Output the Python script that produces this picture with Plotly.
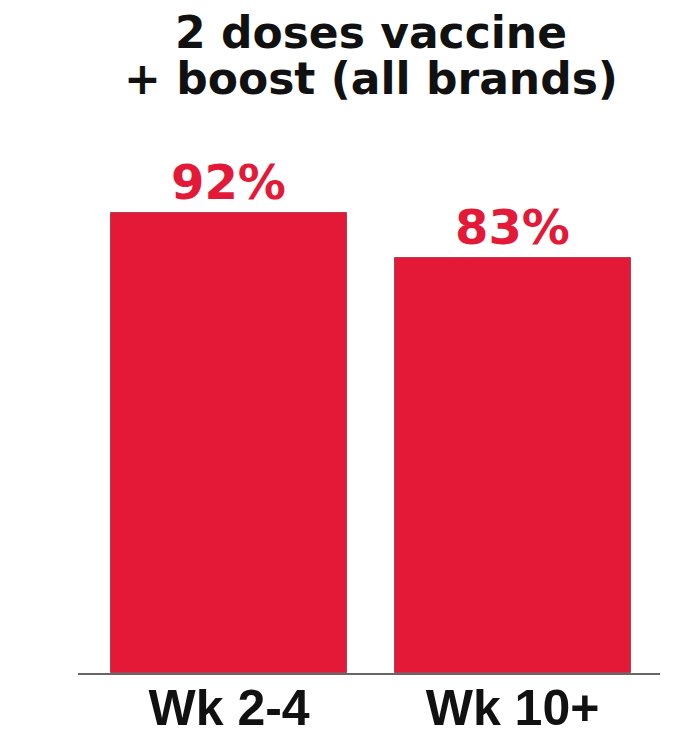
import plotly.graph_objects as go

categories = ["Wk 2-4", "Wk 10+"]
values = [92, 83]
title_lines = ["2 doses vaccine", "+ boost (all brands)"]

RED = "#E31937"
FONT = "DejaVu Sans"
TICKFONT = "Liberation Sans"

fig = go.Figure()
fig.add_trace(go.Bar(
    x=categories, y=values,
    width=0.833,
    marker=dict(color=RED, line=dict(color="rgba(140,10,30,0.6)", width=1)),
    text=[f"<b>{v}%</b>" for v in values],
    textposition="outside",
    constraintext="none",
    cliponaxis=False,
    textfont=dict(family=FONT, size=48, color=RED),
    hoverinfo="skip",
))

ys = [1.282, 1.19]
for line, yy in zip(title_lines, ys):
    fig.add_annotation(text=f"<b>{line}</b>", xref="paper", yref="paper",
                       x=0.5034, y=yy, xanchor="center", yanchor="middle",
                       showarrow=False, font=dict(family=FONT, size=44, color="#111"))

fig.update_layout(
    width=682, height=731,
    margin=dict(l=78, r=22, t=173, b=58, pad=0, autoexpand=False),
    paper_bgcolor="white", plot_bgcolor="white",
    showlegend=False,
    bargap=0,
    xaxis=dict(range=[-0.533, 1.52], showline=True, linecolor="#666", linewidth=2,
               ticks="", ticklabelstandoff=-10,
               tickfont=dict(family=TICKFONT, size=50, color="#111"),
               tickprefix="<b>", ticksuffix="</b>", showgrid=False, zeroline=False,
               automargin=False, fixedrange=True),
    yaxis=dict(range=[0, 100], visible=False, showgrid=False, zeroline=False,
               automargin=False, fixedrange=True),
)

fig.write_html("out.html")
